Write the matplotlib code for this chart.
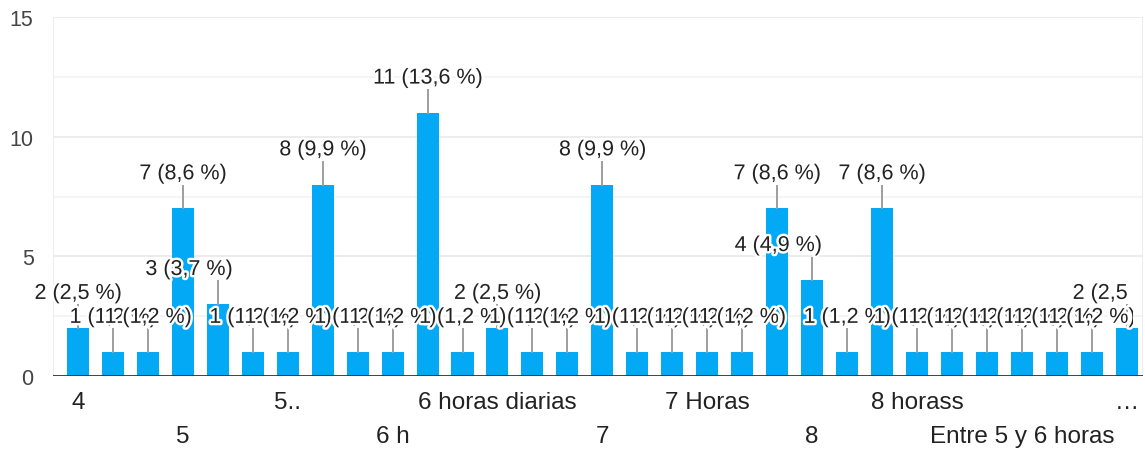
import matplotlib
matplotlib.use("Agg")
import matplotlib.pyplot as plt
import matplotlib.patheffects as pe
from matplotlib.patches import Rectangle
import numpy as np

plt.rcParams["font.family"] = ["Liberation Sans", "DejaVu Sans"]

# Respuestas agrupadas por categoría (orden alfabético del formulario)
categories = [
    "4", "4 horas", "4-5", "5", "5 horas", "5 hrs", "5..", "6", "6 - 7",
    "6 h", "6 horas", "6 horas aprox", "6 horas diarias", "6 hrs", "6-7",
    "7", "7 horas", "7 hrs", "7 Horas", "7-8", "7 u 8", "8", "8 horas",
    "8 horas diarias", "8 horass", "8 hrs", "9", "Entre 5 y 6 horas",
    "Entre 6 y 7 horas", "Entre 7 y 8 horas", "Entre 8 y 9 horas",
]
counts = [2, 1, 1, 7, 3, 1, 1, 8, 1, 1, 11, 1, 2, 1, 1, 8, 1, 1, 1, 1,
          7, 4, 1, 7, 1, 1, 1, 1, 1, 1, 2]
# desplazamiento horizontal de algunas etiquetas (en unidades de barra)
label_shift = {4: -0.83, 21: -0.97, 30: -0.3}

total = sum(counts)
x = np.arange(len(counts))

fig = plt.figure(figsize=(11.45, 4.52), dpi=100)
ax = fig.add_axes([0.0463, 0.166, 0.9517, 0.794])

ax.set_xlim(-0.715, len(counts) - 0.54)
ax.set_ylim(0, 15)

for y in np.arange(0, 15.1, 2.5):
    ax.axhline(y, color="#ebebeb" if y % 5 == 0 else "#f4f4f4", lw=1.3, zorder=0)
ax.axvline(-0.715, color="#ebebeb", lw=1.3, zorder=0)
ax.axvline(len(counts) - 0.54, color="#ebebeb", lw=1.3, zorder=0)

ax.bar(x, counts, width=0.63, color="#03a9f4", zorder=2)
ax.axhline(0, color="#333333", lw=2, zorder=3)

# las etiquetas se recortan un poco antes del borde derecho
label_clip = Rectangle((-0.05, 0), 1.0415, 1.1, transform=ax.transAxes,
                       facecolor="none", edgecolor="none")
ax.add_patch(label_clip)

halo = [pe.withStroke(linewidth=3.5, foreground="white")]
for i, v in enumerate(counts):
    ax.plot([i, i], [v, v + 0.95], color="#9e9e9e", lw=1.4, zorder=3)
    pct = f"{100 * v / total:.1f}".replace(".", ",")
    t = ax.text(i + label_shift.get(i, 0), v + 1.45, f"{v} ({pct} %)",
                ha="center", va="center", fontsize=15.5, color="#222222",
                path_effects=halo, zorder=4, clip_on=True)
    t.set_clip_path(label_clip)

ax.set_yticks([0, 5, 10, 15])
ax.tick_params(axis="y", length=0, labelsize=15.5, labelcolor="#444444", pad=14)
ax.set_xticks([])
for s in ax.spines.values():
    s.set_visible(False)

# Etiquetas del eje X cada tres categorías, alternando en dos filas
for n, i in enumerate(range(0, len(categories), 3)):
    name = categories[i] if i < len(categories) - 1 else "…"
    y_off = -0.072 if n % 2 == 0 else -0.167
    ax.text(i, y_off, name, transform=ax.get_xaxis_transform(),
            ha="center", va="center", fontsize=17.5, color="#222222")

fig.savefig("out.png", dpi=100)
